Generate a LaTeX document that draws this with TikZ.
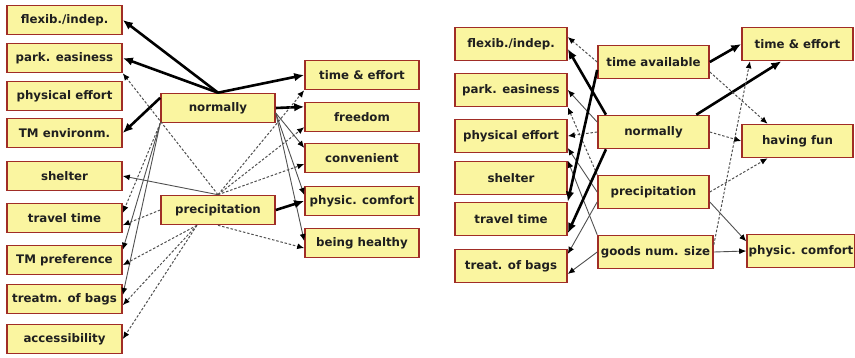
\documentclass[tikz,border=0pt]{standalone}
\usepackage{fontspec}
\setmainfont{DejaVu Sans}
\usetikzlibrary{arrows.meta}
\definecolor{boxfill}{RGB}{250,245,160}
\definecolor{boxrim}{RGB}{160,45,38}
\definecolor{linkgray}{RGB}{80,80,80}

\begin{document}
\begin{tikzpicture}[x=1pt,y=-1pt,
  font=\fontsize{11.8}{13}\selectfont\bfseries,
  factor/.style={draw=boxrim,fill=boxfill,line width=1.6pt,inner sep=0pt,
    minimum width=#1,minimum height=29pt,text=black!88},
  factor/.default=114pt,
  boldlink/.style={line width=2.6pt,black,-{Latex[length=10pt,width=8.5pt]}},
  solidlink/.style={line width=0.9pt,linkgray,-{Latex[length=7pt,width=6pt,color=black]}},
  dashlink/.style={line width=1pt,linkgray,dash pattern=on 2.5pt off 1.8pt,
    -{Latex[length=7pt,width=6pt,color=black]}}]
  \useasboundingbox (0,0) rectangle (855,357);

  % left network
  \foreach \y/\nm/\lab in {
    20/flexA/{flexib./indep.},
    58/parkA/{park. easiness},
    96/physA/{physical effort},
    133/tmeA/{TM environm.},
    176/shelA/{shelter},
    218/travA/{travel time},
    260/tmpA/{TM preference},
    299/treatA/{treatm. of bags},
    339/accA/{accessibility}
  } {
    \node[factor=115pt] (\nm) at (64.5,\y) {\lab};
  }
  \node[factor] (nrmA) at (218,108) {normally};
  \node[factor] (precA) at (218,210) {precipitation};
  \foreach \y/\nm/\lab in {
    75/teA/{time \& effort},
    117/freeA/{freedom},
    158/convA/{convenient},
    201/pcA/{physic. comfort},
    243/bhA/{being healthy}
  } {
    \node[factor] (\nm) at (362,\y) {\lab};
  }

  \draw[boldlink] (nrmA.north) -- (flexA.east);
  \draw[boldlink] (nrmA.north) -- (parkA.east);
  \draw[boldlink] (nrmA.170) -- (tmeA.east);
  \draw[boldlink] (nrmA.north) -- (teA.west);
  \draw[boldlink] (nrmA.east) -- (freeA.170);
  \draw[solidlink] (nrmA.-5) -- (convA.170);
  \draw[solidlink] (nrmA.-5) -- (pcA.174);
  \draw[solidlink] (nrmA.-5) -- (bhA.178);
  \draw[dashlink] (nrmA.south west) -- (travA.5);
  \draw[solidlink] (nrmA.south west) -- (tmpA.10);
  \draw[solidlink] (nrmA.south west) -- (treatA.4);

  \draw[solidlink] (precA.north) -- (shelA.east);
  \draw[dashlink] (precA.north) -- (parkA.south east);
  \draw[dashlink] (precA.north) -- (teA.south west);
  \draw[dashlink] (precA.north) -- (freeA.190);
  \draw[dashlink] (precA.north) -- (convA.186);
  \draw[boldlink] (precA.east) -- (pcA.west);
  \draw[dashlink] (precA.south) -- (bhA.185);
  \draw[dashlink] (precA.west) -- (travA.-7);
  \draw[dashlink] (precA.216) -- (tmpA.-5);
  \draw[dashlink] (precA.216) -- (treatA.-6);
  \draw[dashlink] (precA.216) -- (accA.east);

  % right network
  \begin{scope}[factor/.append style={minimum height=33pt}]
    \foreach \y/\nm/\lab in {
      44/flexB/{flexib./indep.},
      90/parkB/{park. easiness},
      136/physB/{physical effort},
      178/shelB/{shelter},
      219/travB/{travel time},
      266/treatB/{treat. of bags}
    } {
      \node[factor=112pt] (\nm) at (511,\y) {\lab};
    }
    \node[factor=111pt] (taB) at (653.5,62) {time available};
    \node[factor=111pt] (nrmB) at (653.5,132) {normally};
    \node[factor=111pt] (precB) at (653.5,192) {precipitation};
    \node[factor=115pt] (goodsB) at (655.5,252) {goods num. size};
    \node[factor=111pt] (teB) at (797.5,44) {time \& effort};
    \node[factor=111pt] (funB) at (797.5,141) {having fun};
    \node[factor=108pt] (pcB) at (801,251) {physic. comfort};
  \end{scope}

  \draw[dashlink] (taB.west) -- (flexB.7);
  \draw[boldlink] (nrmB.160) -- (flexB.-5);
  \draw[solidlink] (nrmB.170) -- (parkB.east);
  \draw[dashlink] (precB.north west) -- (parkB.south east);
  \draw[dashlink] (nrmB.west) -- (physB.east);
  \draw[solidlink] (precB.west) -- (physB.-12);
  \draw[solidlink] (goodsB.north west) -- (shelB.north east);
  \draw[boldlink] (taB.188) -- (travB.north east);
  \draw[boldlink] (nrmB.200) -- (travB.-14);
  \draw[solidlink] (precB.190) -- (treatB.12);
  \draw[solidlink] (goodsB.west) -- (treatB.-8);

  \draw[boldlink] (taB.east) -- (teB.west);
  \draw[boldlink] (nrmB.22) -- (teB.227);
  \draw[dashlink] (taB.-10) -- (funB.150);
  \draw[dashlink] (nrmB.east) -- (funB.west);
  \draw[dashlink] (precB.east) -- (funB.210);
  \draw[dashlink] (goodsB.7) -- (teB.200);
  \draw[solidlink] (precB.-10) -- (pcB.170);
  \draw[solidlink] (goodsB.east) -- (pcB.west);
\end{tikzpicture}
\end{document}
